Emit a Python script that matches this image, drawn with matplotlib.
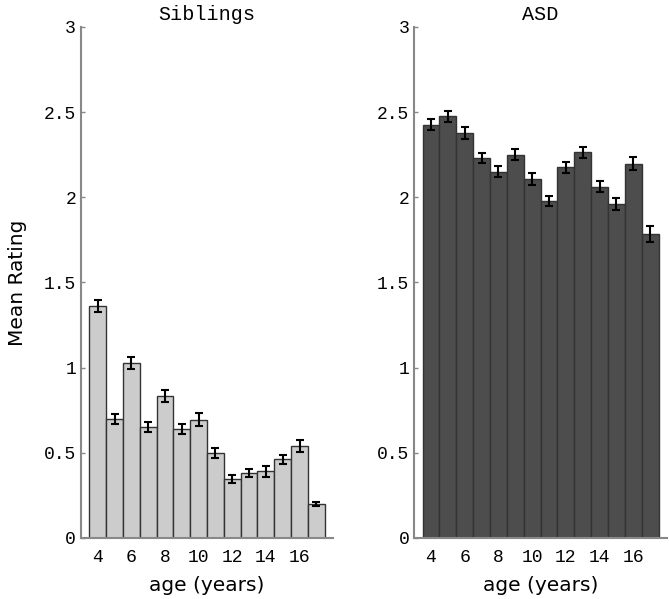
import numpy as np
import matplotlib.pyplot as plt

ages = np.arange(4, 18)

sib_mean = [1.363, 0.70, 1.025, 0.653, 0.835, 0.639, 0.694, 0.498, 0.347, 0.382, 0.39, 0.461, 0.539, 0.198]
sib_err = [0.035, 0.03, 0.035, 0.03, 0.035, 0.03, 0.037, 0.03, 0.025, 0.025, 0.03, 0.025, 0.035, 0.012]

asd_mean = [2.426, 2.475, 2.377, 2.232, 2.151, 2.251, 2.106, 1.978, 2.177, 2.263, 2.063, 1.961, 2.198, 1.784]
asd_err = [0.033, 0.032, 0.035, 0.03, 0.03, 0.03, 0.035, 0.03, 0.032, 0.032, 0.033, 0.033, 0.04, 0.048]

yticks = [0, 0.5, 1, 1.5, 2, 2.5, 3]
ytick_labels = ['0', '0.5', '1', '1.5', '2', '2.5', '3']
xticks = [4, 6, 8, 10, 12, 14, 16]

mono = 'Liberation Mono'

fig = plt.figure(figsize=(6.69, 5.99), dpi=100)
ax1 = fig.add_axes([0.121, 0.102, 0.377, 0.853])
ax2 = fig.add_axes([0.619, 0.102, 0.378, 0.853])

def draw(ax, mean, err, color, title):
    ax.bar(ages, mean, width=1.0, color=color, edgecolor='#333333', linewidth=1.0)
    ax.errorbar(ages, mean, yerr=err, fmt='none', ecolor='black', elinewidth=1.5,
                capsize=3, capthick=1.5)
    ax.set_xlim(3, 18)
    ax.set_ylim(0, 3)
    ax.set_yticks(yticks)
    ax.set_yticklabels(ytick_labels, fontfamily=mono, fontsize=13)
    ax.set_xticks(xticks)
    ax.set_xticklabels([str(x) for x in xticks], fontfamily=mono, fontsize=13)
    ax.tick_params(direction='in', length=3, color='#888888', width=1)
    ax.tick_params(axis='x', length=0, pad=8)
    ax.spines['top'].set_visible(False)
    ax.spines['right'].set_visible(False)
    ax.spines['left'].set_color('#888888')
    ax.spines['bottom'].set_color('#888888')
    ax.spines['left'].set_linewidth(1.5)
    ax.spines['bottom'].set_linewidth(1.5)
    ax.set_title(title, fontfamily=mono, fontsize=14.5, pad=5)
    ax.set_xlabel('age (years)', fontsize=14.5, labelpad=7)

draw(ax1, sib_mean, sib_err, '#cccccc', 'Siblings')
draw(ax2, asd_mean, asd_err, '#4d4d4d', 'ASD')
ax1.set_ylabel('Mean Rating', fontsize=14.5, labelpad=12)

fig.savefig('out.png', dpi=100)
